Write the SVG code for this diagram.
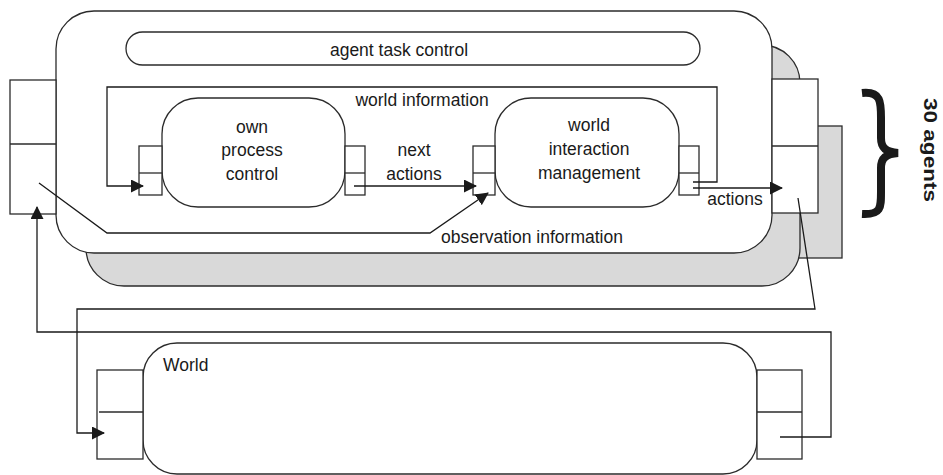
<svg xmlns="http://www.w3.org/2000/svg" width="943" height="475" viewBox="0 0 943 475">
<style>
.box{fill:#fff;stroke:#2b2b2b;stroke-width:1.3}
.shadow{fill:#d9d9d9;stroke:#2b2b2b;stroke-width:1.3}
.port{fill:#fff;stroke:#2b2b2b;stroke-width:1.3}
.line{fill:none;stroke:#2b2b2b;stroke-width:1.3}
.arrow{fill:none;stroke:#1a1a1a;stroke-width:1.3;marker-end:url(#ah)}
text{font-family:"Liberation Sans",Arial,sans-serif;font-size:17.5px;fill:#1a1a1a}
.c{text-anchor:middle}
</style>
<defs>
<marker id="ah" viewBox="0 0 13 13" refX="12" refY="6.5" markerWidth="13" markerHeight="13" markerUnits="userSpaceOnUse" orient="auto">
<path d="M0,0 L13,6.5 L0,13 z" fill="#1a1a1a"/>
</marker>
</defs>

<g id="agent-shadow">
<rect class="shadow" x="780" y="126" width="62" height="132"/>
<rect class="shadow" x="86" y="45" width="714" height="241" rx="38" ry="38"/>
</g>

<g id="agent">
<rect class="box" x="56" y="11" width="716" height="242" rx="38" ry="38"/>
<g id="agent-in-port">
<rect class="port" x="10" y="80" width="46" height="134"/>
<line class="line" x1="10" y1="144" x2="56" y2="144"/>
</g>
<g id="agent-out-port">
<rect class="port" x="772" y="79" width="46" height="134"/>
<line class="line" x1="772" y1="146" x2="818" y2="146"/>
</g>
</g>

<g id="agent-task-control">
<rect class="box" x="126" y="32" width="574" height="33" rx="16.5" ry="16.5"/>
<text class="c" x="399" y="56">agent task control</text>
</g>

<g id="own-process-control">
<rect class="box" x="162" y="98" width="183" height="109" rx="36" ry="36"/>
<rect class="port" x="139" y="146" width="23" height="49"/>
<line class="line" x1="139" y1="173" x2="162" y2="173"/>
<rect class="port" x="345" y="146" width="20" height="49"/>
<line class="line" x1="345" y1="173" x2="365" y2="173"/>
<text class="c" x="252" y="133">own</text>
<text class="c" x="252" y="156">process</text>
<text class="c" x="252" y="180">control</text>
</g>

<g id="world-interaction-management">
<rect class="box" x="495" y="98" width="184" height="109" rx="36" ry="36"/>
<rect class="port" x="473" y="146" width="22" height="49"/>
<line class="line" x1="473" y1="173" x2="495" y2="173"/>
<rect class="port" x="679" y="146" width="20" height="49"/>
<line class="line" x1="679" y1="173" x2="699" y2="173"/>
<text class="c" x="589" y="131">world</text>
<text class="c" x="589" y="155">interaction</text>
<text class="c" x="589" y="179">management</text>
</g>

<g id="world">
<rect class="box" x="143" y="343" width="614" height="131" rx="34" ry="34"/>
<rect class="port" x="97" y="370" width="46" height="89"/>
<line class="line" x1="99" y1="412" x2="143" y2="412"/>
<rect class="port" x="757" y="370" width="45" height="89"/>
<line class="line" x1="757" y1="412" x2="802" y2="412"/>
<text x="163" y="371">World</text>
</g>

<g id="connectors">
<polyline class="arrow" points="693,182 717,182 717,87 107,87 107,186 143,186"/>
<line class="arrow" x1="354" y1="186" x2="476" y2="186"/>
<polyline class="arrow" points="39,183 107,233 430,233 488,193"/>
<line class="arrow" x1="693" y1="188" x2="782" y2="188"/>
<polyline class="arrow" points="780,437 831,437 831,332 37,332 37,207"/>
<polyline class="arrow" points="798,198 815,309 77,309 77,433 104,433"/>
</g>

<g id="labels">
<text class="c" x="422" y="106">world information</text>
<text class="c" x="414" y="156">next</text>
<text class="c" x="414" y="180">actions</text>
<text class="c" x="735" y="205">actions</text>
<text x="441" y="243">observation information</text>
</g>

<g id="group-brace">
<path d="M862,93 C881,91 881,102 881,118 L881,138 C881,148 886,152 898,153 C886,154 881,158 881,168 L881,192 C881,208 881,215 862,214" fill="none" stroke="#1a1a1a" stroke-width="8"/>
<text transform="translate(924,150) rotate(90)" class="c" style="font-weight:bold;font-size:19px" textLength="104" lengthAdjust="spacingAndGlyphs">30 agents</text>
</g>
</svg>
